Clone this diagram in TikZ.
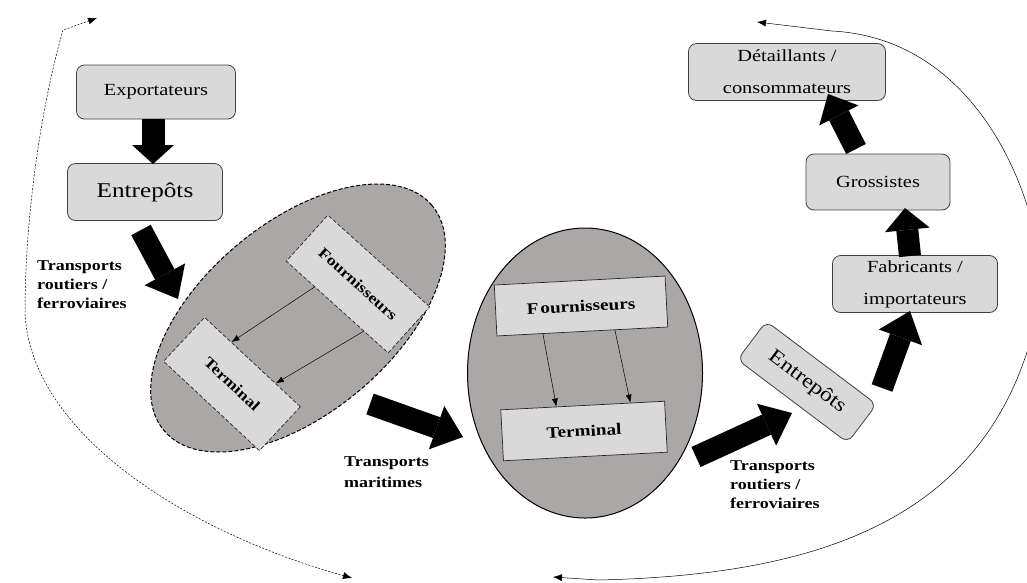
\documentclass[tikz,border=0pt]{standalone}
\usepackage{fontspec}
\setmainfont{Liberation Serif}[FakeStretch=1.2]
\usetikzlibrary{shapes.geometric,arrows.meta,calc}
\definecolor{boxfill}{HTML}{D9D9D9}
\definecolor{ellfill}{HTML}{ABA7A6}
\definecolor{boxline}{HTML}{404040}
\begin{document}
\begin{tikzpicture}[x=1pt,y=-1pt,
 box/.style={draw=boxline,fill=boxfill,rounded corners=8pt,line width=0.8pt,inner sep=0pt,align=center},
 ibox/.style={draw=black!85,fill=boxfill,line width=0.7pt,inner sep=0pt,font=\bfseries\fontsize{16}{18}\selectfont},
 bigarrow/.style={line width=22pt,-{Triangle[width=46pt,length=28pt,line width=0pt]}},
 thinarrow/.style={line width=0.5pt,-{Latex[length=8pt,width=6pt]}},
 lab/.style={font=\bfseries\fontsize{15}{19}\selectfont,align=left,inner sep=0pt,anchor=north west},
 curve/.style={line width=0.5pt,{Latex[length=9pt,width=7pt]}-{Latex[length=9pt,width=7pt]}},
]
\useasboundingbox (0,0) rectangle (1027,582);

% ellipses
\node[ellipse,draw,dashed,dash pattern=on 4pt off 2pt,fill=ellfill,line width=1pt,
      minimum width=350pt,minimum height=190pt,rotate=40,inner sep=0pt] (E1) at (298,318) {};
\node[ellipse,draw,fill=ellfill,line width=1pt,
      minimum width=235pt,minimum height=290pt,inner sep=0pt] (E2) at (585,373) {};

% inner boxes, left
\node[ibox,dashed,dash pattern=on 4pt off 2pt,minimum width=137pt,minimum height=62pt,rotate=-42,
      font=\bfseries\fontsize{15}{18}\selectfont] (F1) at (358,284) {Fournisseurs};
\node[ibox,dashed,dash pattern=on 4pt off 2pt,minimum width=131pt,minimum height=60pt,rotate=-43,
      font=\bfseries\fontsize{15}{18}\selectfont] (T1) at (232,384) {Terminal};
\draw[thinarrow] ($(F1.south west)!0.28!(F1.south east)$) -- ($(T1.north west)!0.28!(T1.north east)$);
\draw[thinarrow] ($(F1.south west)!0.76!(F1.south east)$) -- ($(T1.north west)!0.74!(T1.north east)$);

% inner boxes, middle
\node[ibox,minimum width=171pt,minimum height=51pt,rotate=3] (F2) at (581,306) {F\kern2pt ournisseurs};
\node[ibox,minimum width=164pt,minimum height=51pt,rotate=3] (T2) at (584,431) {Terminal};
\draw[thinarrow] ($(F2.south west)!0.27!(F2.south east)$) -- ($(T2.north west)!0.34!(T2.north east)$);
\draw[thinarrow] ($(F2.south west)!0.69!(F2.south east)$) -- ($(T2.north west)!0.79!(T2.north east)$);

% boxes
\node[box,minimum width=159pt,minimum height=54pt,font=\fontsize{17}{20}\selectfont] (Ex) at (156,92) {Exportateurs};
\node[box,minimum width=155pt,minimum height=57pt,font=\fontsize{21}{24}\selectfont] (En1) at (145,192) {Entrepôts};
\node[box,minimum width=197pt,minimum height=57pt,font=\fontsize{17}{32}\selectfont] (De) at (787,72) {Détaillants /\\consommateurs};
\node[box,minimum width=144pt,minimum height=56pt,font=\fontsize{17}{20}\selectfont] (Gr) at (878,182) {Grossistes};
\node[box,minimum width=165pt,minimum height=57pt,font=\fontsize{17}{32}\selectfont] (Fa) at (915,284) {Fabricants /\\importateurs};
\node[box,minimum width=138pt,minimum height=48pt,rotate=-37,font=\fontsize{20}{24}\selectfont] (En2) at (807,382) {Entrepôts};

% labels
\node[lab] (L1) at (37,260) {Transports\\routiers /\\ferroviaires};
\node[lab,font=\bfseries\fontsize{15}{21}\selectfont] (L2) at (344,456) {Transports\\maritimes};
\node[lab] (L3) at (730,460) {Transports\\routiers /\\ferroviaires};

% big arrows
\coordinate (a1s) at (153,119); \coordinate (a1e) at (153,164);
\coordinate (a2s) at (141,230); \coordinate (a2e) at (178,299);
\coordinate (a3s) at (370,404); \coordinate (a3e) at (463,437);
\coordinate (a4s) at (696,457); \coordinate (a4e) at (792,413);
\coordinate (a5s) at (882,388); \coordinate (a5e) at (910,311);
\coordinate (a6s) at (910,256); \coordinate (a6e) at (905,208);
\coordinate (a7s) at (856,149); \coordinate (a7e) at (828,94);
\draw[bigarrow,line width=23pt,-{Triangle[width=42pt,length=19pt,line width=0pt]}] (a1s) -- (a1e);
\draw[bigarrow] (a2s) -- (a2e);
\draw[bigarrow] (a3s) -- (a3e);
\draw[bigarrow] (a4s) -- (a4e);
\draw[bigarrow] (a5s) -- (a5e);
\draw[bigarrow,-{Triangle[width=45pt,length=22pt,line width=0pt]}] (a6s) -- (a6e);
\draw[bigarrow,-{Triangle[width=44pt,length=24pt,line width=0pt]}] (a7s) -- (a7e);

% return curves
\coordinate (c1a) at (352,578); \coordinate (c1b) at (97,18);
\draw[curve,dashed,dash pattern=on 2pt off 1.5pt] (c1a) .. controls (180,530) and (30,430) .. (25,313)
   .. controls (25,220) and (40,110) .. (63,30) -- (c1b);
\coordinate (c2a) at (553,577); \coordinate (c2b) at (757,22);
\begin{scope}
\clip (0,0) rectangle (1027,582);
\draw[curve] (c2a) -- (598,580) .. controls (820,575) and (1000,520) .. (1040,300)
   .. controls (1050,245) and (1000,40) .. (832,31) -- (c2b);
\end{scope}
\end{tikzpicture}
\end{document}
